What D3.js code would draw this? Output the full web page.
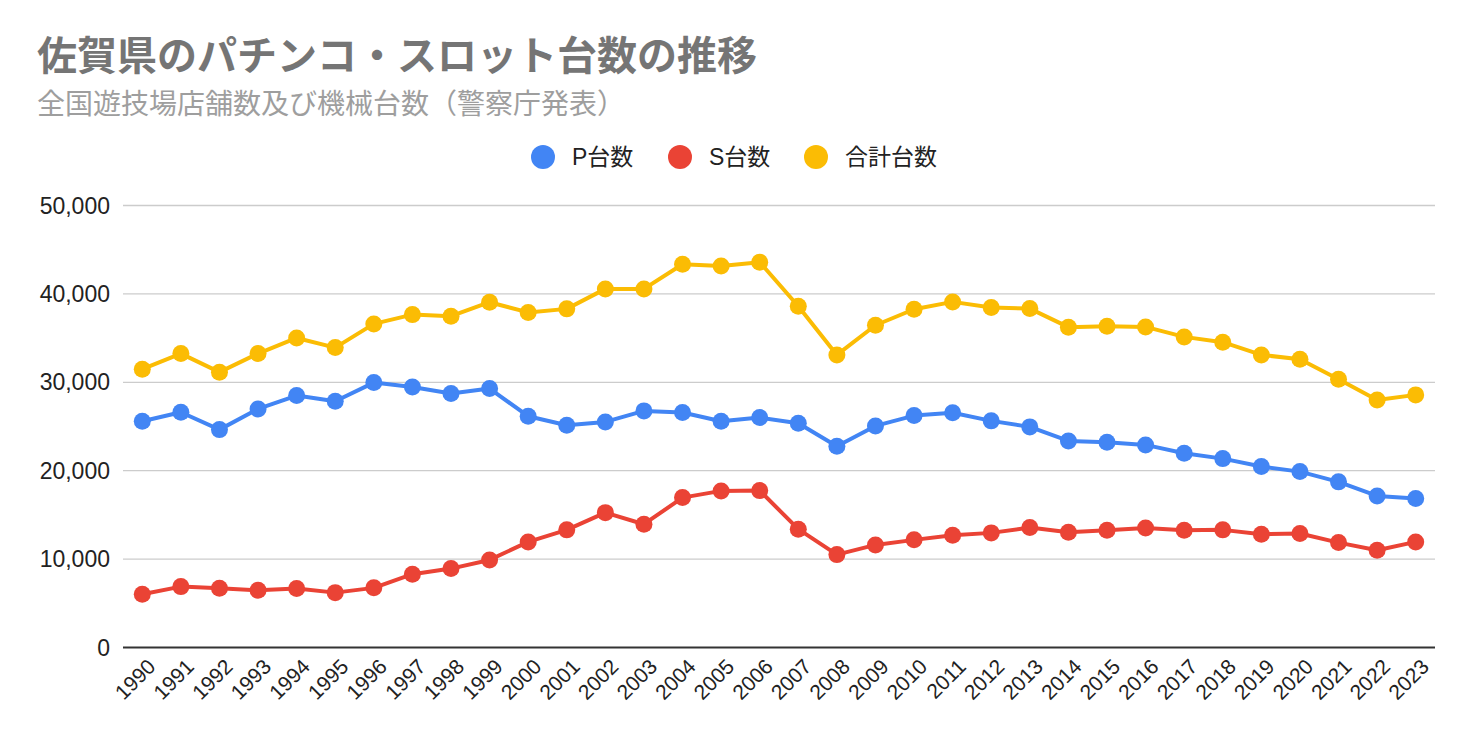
<!DOCTYPE html>
<html><head><meta charset="utf-8">
<script src="https://cdn.jsdelivr.net/npm/d3@7"></script>
<style>
body{margin:0;background:#fff;}
svg{display:block;font-family:"Liberation Sans",Arial,"Noto Sans CJK JP",sans-serif;}
</style></head>
<body><svg id="c" width="1472" height="742"></svg>
<script>
const years = ["1990","1991","1992","1993","1994","1995","1996","1997","1998","1999","2000","2001","2002","2003","2004","2005","2006","2007","2008","2009","2010","2011","2012","2013","2014","2015","2016","2017","2018","2019","2020","2021","2022","2023"];
const pValues = [25540,26560,24590,26930,28440,27800,29910,29420,28670,29230,26110,25090,25460,26710,26520,25540,25950,25320,22710,25010,26180,26500,25580,24900,23310,23170,22860,21920,21310,20410,19840,18680,17090,16790];
const sValues = [5970,6830,6650,6420,6610,6150,6690,8240,8870,9850,11890,13250,15200,13890,16900,17660,17690,13330,10450,11550,12120,12650,12910,13510,12990,13210,13470,13210,13250,12760,12840,11810,10950,11890];
const totalValues = [31430,33190,31090,33190,34960,33870,36550,37600,37420,39000,37850,38250,40510,40510,43300,43110,43530,38550,33040,36400,38210,39040,38400,38280,36180,36290,36210,35080,34480,33040,32560,30290,27950,28520];
const yTicks = [0,10000,20000,30000,40000,50000];
const seriesNames = ["P台数","S台数","合計台数"];
const colors = ["#4285F4","#EA4335","#FBBC04"];
const title = "佐賀県のパチンコ・スロット台数の推移";
const subtitle = "全国遊技場店舗数及び機械台数（警察庁発表）";

const svg = d3.select("#c");
const L = 123, R = 1435, T = 205, B = 647;
const x = d3.scalePoint().domain(years).range([L, R]).padding(0.5);
const y = d3.scaleLinear().domain([0, 50000]).range([B, T]);

svg.append("text").attr("x", 37).attr("y", 70).attr("fill", "#757575")
  .attr("font-size", 40).attr("font-weight", "bold")
  .attr("font-family", "'Noto Sans CJK JP',sans-serif").text(title);
svg.append("text").attr("x", 37).attr("y", 114).attr("fill", "#9e9e9e")
  .attr("font-size", 28).attr("font-family", "'Noto Sans CJK JP',sans-serif").text(subtitle);

// legend
const legX = [543, 680, 816];
seriesNames.forEach((n, i) => {
  svg.append("circle").attr("cx", legX[i]).attr("cy", 157).attr("r", 12).attr("fill", colors[i]);
  svg.append("text").attr("x", legX[i] + 29).attr("y", 164.5).attr("font-size", 23)
    .attr("fill", "#222").text(n);
});

// grid
const yAxis = d3.axisLeft(y).tickValues(yTicks).tickSize(-(R - L)).tickFormat(d3.format(","));
const gy = svg.append("g").attr("transform", `translate(${L},0)`).call(yAxis);
gy.select(".domain").remove();
gy.selectAll(".tick line").attr("stroke", "#cccccc").attr("stroke-width", 1.3);
gy.selectAll(".tick text").attr("x", -13).attr("dy", "0.35em").attr("font-size", 23).attr("fill", "#222")
  .attr("font-family", "'Liberation Sans',Arial,sans-serif");
gy.selectAll(".tick").filter(d => d === 0).select("line").attr("stroke", "#333").attr("stroke-width", 2);

// x axis labels
const xAxis = d3.axisBottom(x).tickSize(0);
const gx = svg.append("g").attr("transform", `translate(0,${B})`).call(xAxis);
gx.select(".domain").remove();
gx.selectAll(".tick text").attr("font-size", 21).attr("fill", "#222")
  .attr("font-family", "'Liberation Sans',Arial,sans-serif")
  .attr("text-anchor", "end").attr("dy", null).attr("y", 0)
  .attr("transform", "translate(14,21) rotate(-45)");

const data = [pValues, sValues, totalValues];
const line = d3.line().x((d, i) => x(years[i])).y(d => y(d));
[2, 0, 1].forEach(k => {
  svg.append("path").datum(data[k]).attr("d", line).attr("fill", "none")
    .attr("stroke", colors[k]).attr("stroke-width", 4).attr("stroke-linejoin", "round");
  svg.append("g").selectAll("circle").data(data[k]).join("circle")
    .attr("cx", (d, i) => x(years[i])).attr("cy", d => y(d)).attr("r", 8.5).attr("fill", colors[k]);
});
</script></body></html>
